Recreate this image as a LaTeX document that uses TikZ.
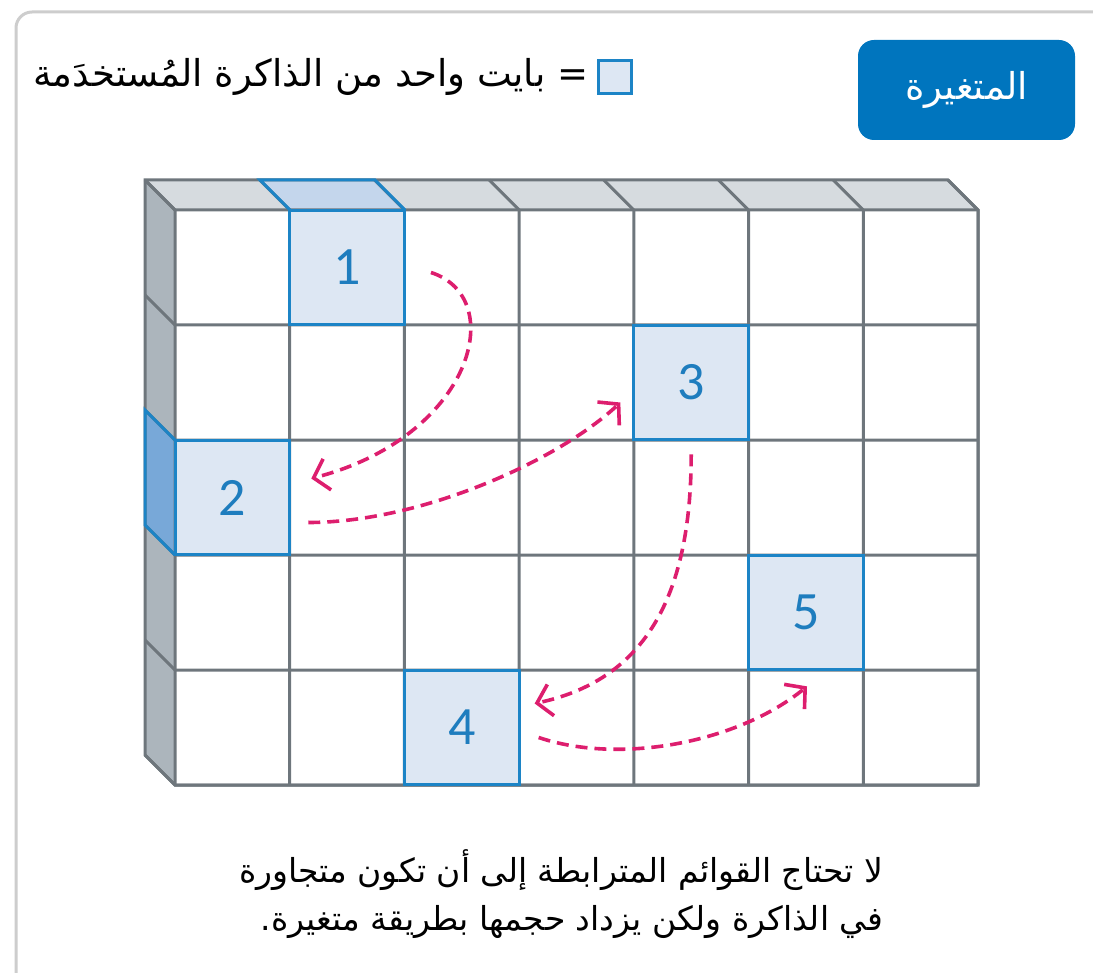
\documentclass[tikz,border=0pt]{standalone}
\usepackage{fontspec}
\setmainfont{Carlito}
\newfontfamily\arabicfont[Script=Arabic]{DejaVu Sans}
\TeXXeTstate=1
\usetikzlibrary{arrows.meta,calc,positioning}

\definecolor{gridgray}{RGB}{110,118,124}
\definecolor{topgray}{RGB}{214,219,223}
\definecolor{sidegray}{RGB}{172,181,188}
\definecolor{hifill}{RGB}{221,231,243}
\definecolor{hitop}{RGB}{196,214,236}
\definecolor{hiside}{RGB}{120,168,216}
\definecolor{hiblue}{RGB}{28,132,198}
\definecolor{numblue}{RGB}{30,125,190}
\definecolor{linkpink}{RGB}{221,30,110}
\definecolor{btnblue}{RGB}{0,117,190}
\definecolor{framegray}{RGB}{205,205,205}

\begin{document}
\begin{tikzpicture}[x=0.5pt,y=-0.5pt,
  gridline/.style={draw=gridgray,line width=1.5pt},
  hiline/.style={draw=hiblue,line width=1.5pt},
  cellhi/.style={draw=hiblue,fill=hifill,line width=1.5pt,minimum size=57.36pt,inner sep=0pt,text=numblue,font=\fontsize{27}{30}\selectfont},
  link/.style={draw=linkpink,line width=1.8pt,dash pattern=on 6pt off 3.5pt,-{Straight Barb[length=7pt,width=16pt]}},
  arabic/.style={font=\arabicfont\fontsize{18.5}{24}\selectfont},
  captiontext/.style={font=\arabicfont\fontsize{16.5}{24}\selectfont}]
\useasboundingbox (0,0) rectangle (1093,973);

% frame
\draw[framegray,line width=1.5pt,rounded corners=8pt] (16,973) -- (16,12) -- (1100,12);

% header
\node[fill=btnblue,rounded corners=8pt,minimum width=108.5pt,minimum height=50pt,text=white,arabic] (var) at (966.5,90) {\beginR المتغيرة\endR};
\node[draw=hiblue,fill=hifill,line width=1.2pt,minimum size=16.5pt,inner sep=0pt] (key) at (615,77) {};
\node[left=1pt of key,arabic] (keytext) {\beginR = بايت واحد من الذاكرة المُستخدَمة\endR};

% memory block: faces
\fill[topgray] (175,210) -- (978,210) -- (948,180) -- (145,180) -- cycle;
\fill[sidegray] (175,210) -- (175,785) -- (145,755) -- (145,180) -- cycle;
\fill[hitop] (290,210) -- (405,210) -- (375,180) -- (260,180) -- cycle;
\fill[hiside] (175,440) -- (175,555) -- (145,525) -- (145,410) -- cycle;

% grid
\draw[gridline] (145,180) -- (948,180) -- (978,210) -- (978,785) -- (175,785) -- (145,755) -- cycle;
\foreach \i in {0,...,7}
  \draw[gridline] ({175+114.714*\i},785) -- ({175+114.714*\i},210) -- ({145+114.714*\i},180);
\foreach \j in {0,...,5}
  \draw[gridline] (978,{210+115*\j}) -- (175,{210+115*\j}) -- (145,{180+115*\j});

% used bytes
\draw[hiline] (290,210) -- (260,180) -- (375,180) -- (405,210);
\draw[hiline] (175,440) -- (145,410) -- (145,525) -- (175,555);
\node[cellhi] (c1) at (347.1,267.5) {1};
\node[cellhi] (c2) at (232.4,497.5) {2};
\node[cellhi] (c3) at (691.2,382.5) {3};
\node[cellhi] (c4) at (461.8,727.5) {4};
\node[cellhi] (c5) at (806.0,612.5) {5};

% links
\draw[link] ($(c1.east)+(25,5)$) .. controls +(78,25) and +(162,-42) .. ($(c2.east)+(20,-19)$);
\draw[link] ($(c2.east)+(17,25)$) .. controls +(113,0) and +(-62,58) .. ($(c3.west)+(-12,20)$);
\draw[link] ($(c3.south)+(0,13)$) .. controls +(0,147) and +(107,-23) .. ($(c4.east)+(14,-24)$);
\draw[link] ($(c4.east)+(18,10)$) .. controls +(83,28) and +(-67,55) .. ($(c5.south)+(1,15)$);

% caption
\node[anchor=east,align=right,captiontext] (note) at (890,894)
  {\beginR لا تحتاج القوائم المترابطة إلى أن تكون متجاورة\endR\\
   \beginR في الذاكرة ولكن يزداد حجمها بطريقة متغيرة.\endR};
\end{tikzpicture}
\end{document}
